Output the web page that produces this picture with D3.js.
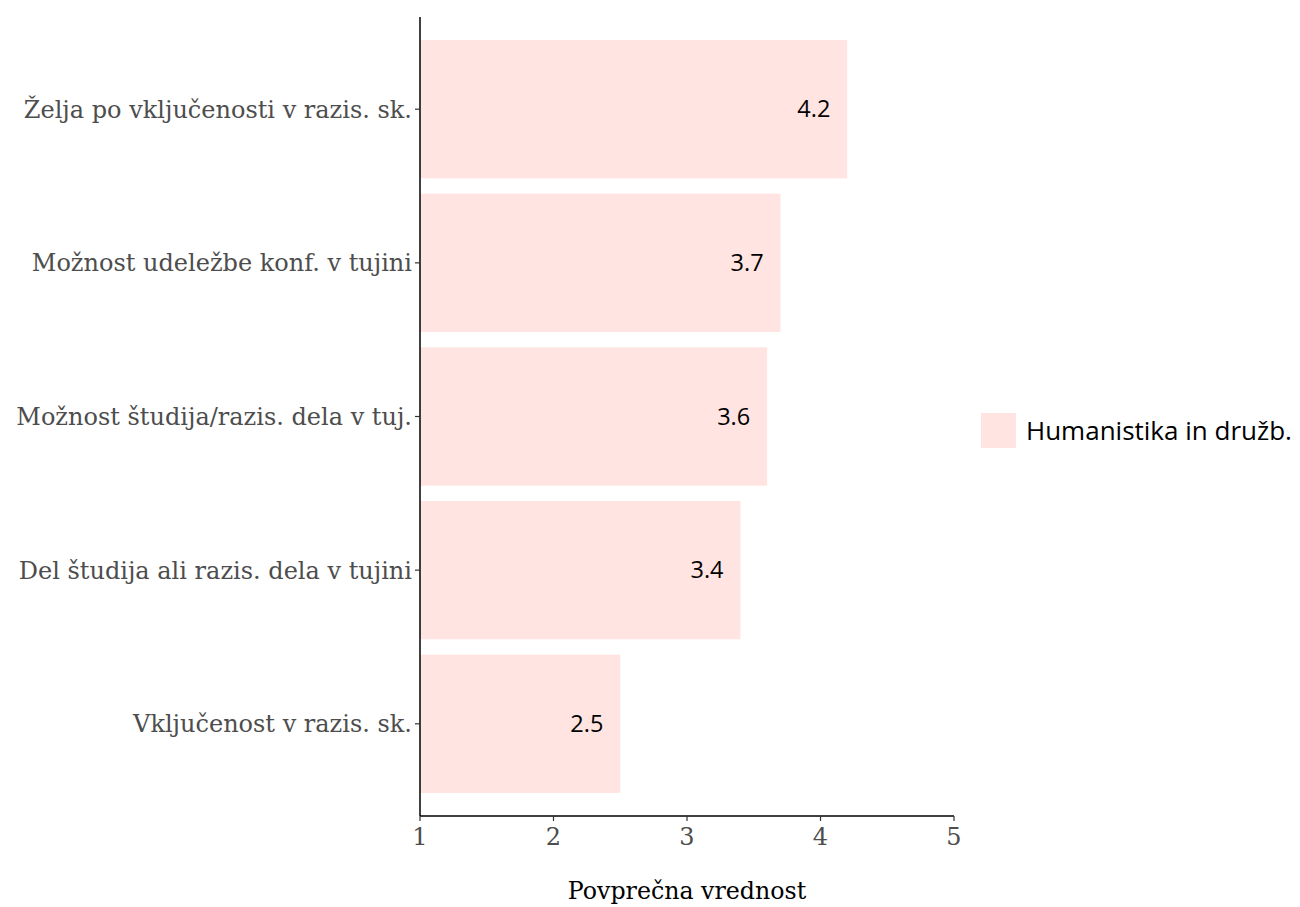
<!DOCTYPE html>
<html>
<head>
<meta charset="utf-8">
<script src="https://cdn.jsdelivr.net/npm/d3@7"></script>
<style>
  body { margin: 0; background: #fff; }
  .tick text { font-family: "DejaVu Serif", "Liberation Serif", serif; }
</style>
</head>
<body>
<svg id="chart" width="1300" height="907"></svg>
<script>
// categories, top to bottom
var categories = [
   "Želja po vključenosti v razis. sk.",
   "Možnost udeležbe konf. v tujini",
   "Možnost študija/razis. dela v tuj.",
   "Del študija ali razis. dela v tujini",
   "Vključenost v razis. sk."
];
var values = [4.2, 3.7, 3.6, 3.4, 2.5];
var xTicks = [1, 2, 3, 4, 5];
var seriesName = "Humanistika in družb.";

(function () {
   "use strict";

   var svg = d3.select("#chart"),
      mLeft = 420, mRight = 954, mTop = 17, mBottom = 816,
      barColor = "#ffe4e1";

   var x = d3.scaleLinear().domain([1, 5]).range([mLeft, mRight]);

   // discrete axis, ggplot-like 0.6 expansion on each side
   var n = categories.length,
      step = (mBottom - mTop) / (n - 1 + 1.2),
      bh = step * 0.9;
   var y = d3.scalePoint().domain(categories)
      .range([mTop + 0.6 * step, mBottom - 0.6 * step]);

   // bars
   svg.append("g").selectAll("rect").data(values).enter().append("rect")
      .attr("x", x(1))
      .attr("y", function (d, i) { return y(categories[i]) - bh / 2; })
      .attr("width", function (d) { return x(d) - x(1); })
      .attr("height", bh)
      .attr("fill", barColor);

   // value labels
   svg.append("g").selectAll("text").data(values).enter().append("text")
      .attr("x", function (d) { return x(d - 0.25); })
      .attr("y", function (d, i) { return y(categories[i]); })
      .attr("dy", "0.35em")
      .attr("text-anchor", "middle")
      .attr("font-family", "'Open Sans', 'Noto Sans', sans-serif")
      .attr("font-size", 23.5)
      .attr("fill", "#000")
      .text(function (d) { return d.toFixed(1); });

   // y axis
   var yAxis = svg.append("g");
   yAxis.append("line").attr("x1", mLeft).attr("x2", mLeft).attr("y1", mTop).attr("y2", mBottom)
      .attr("stroke", "#000").attr("stroke-width", 1.5);
   var yt = yAxis.selectAll("g.tick").data(categories).enter().append("g").attr("class", "tick")
      .attr("transform", function (d) { return "translate(0," + y(d) + ")"; });
   yt.append("line").attr("x1", mLeft - 5).attr("x2", mLeft).attr("stroke", "#333").attr("stroke-width", 1.2);
   yt.append("text").attr("x", mLeft - 8).attr("dy", "0.35em").attr("text-anchor", "end")
      .attr("font-size", 24).attr("fill", "#4d4d4d").text(function (d) { return d; });

   // x axis
   var xAxis = svg.append("g");
   xAxis.append("line").attr("x1", mLeft).attr("x2", mRight).attr("y1", mBottom).attr("y2", mBottom)
      .attr("stroke", "#000").attr("stroke-width", 1.5);
   var xt = xAxis.selectAll("g.tick").data(xTicks).enter().append("g").attr("class", "tick")
      .attr("transform", function (d) { return "translate(" + x(d) + ",0)"; });
   xt.append("line").attr("y1", mBottom).attr("y2", mBottom + 5).attr("stroke", "#333").attr("stroke-width", 1.2);
   xt.append("text").attr("y", mBottom + 29).attr("text-anchor", "middle")
      .attr("font-size", 24).attr("fill", "#4d4d4d").text(function (d) { return d; });

   // x title
   svg.append("text").attr("x", (mLeft + mRight) / 2).attr("y", 899)
      .attr("text-anchor", "middle")
      .attr("font-family", "'DejaVu Serif', 'Liberation Serif', serif")
      .attr("font-size", 23.7).attr("fill", "#000")
      .text("Povprečna vrednost");

   // legend
   var lg = svg.append("g").attr("transform", "translate(981,413)");
   lg.append("rect").attr("width", 35).attr("height", 35).attr("fill", barColor);
   lg.append("text").attr("x", 45).attr("y", 17.5).attr("dy", "0.35em")
      .attr("font-family", "'Open Sans', 'Noto Sans', sans-serif")
      .attr("font-size", 26).attr("fill", "#000")
      .text(seriesName);
}());
</script>
</body>
</html>
